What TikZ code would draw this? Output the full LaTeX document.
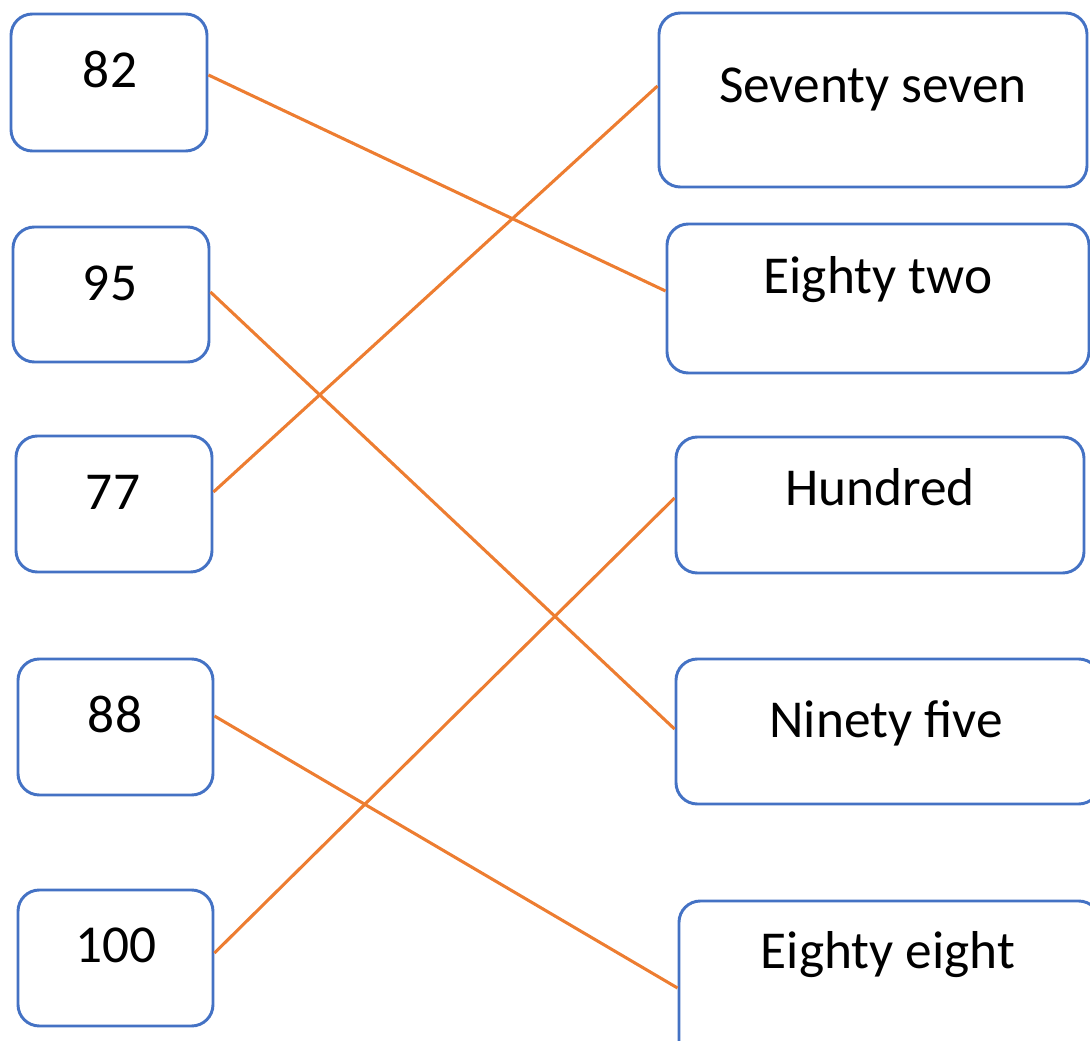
\documentclass[tikz,border=0pt]{standalone}
\usepackage{fontspec}
\setmainfont{Carlito}
\usetikzlibrary{fit,calc}
\definecolor{boxblue}{HTML}{4472C4}
\definecolor{linkorange}{HTML}{ED7D31}
\begin{document}
\begin{tikzpicture}[x=0.75pt,y=-0.75pt,
  box/.style={draw=boxblue, line width=2.2pt, rounded corners=16pt, inner sep=0pt},
  txt/.style={font=\fontsize{40}{48}\selectfont, anchor=base, inner sep=0pt},
  link/.style={draw=linkorange, line width=2.3pt}]
\useasboundingbox (0,0) rectangle (1090,1041);
\clip (0,0) rectangle (1090,1041);
% left boxes
\node[box, fit={(11,14) (207,151)}] (b82) {};
\node[box, fit={(13,227) (209,362)}] (b95) {};
\node[box, fit={(16,436) (212,572)}] (b77) {};
\node[box, fit={(18,659) (213,795)}] (b88) {};
\node[box, fit={(18,890) (213,1026)}] (b100) {};
% right boxes
\node[box, fit={(659,13) (1087,187)}] (bsev) {};
\node[box, fit={(667,224) (1089,373)}] (beit) {};
\node[box, fit={(676,437) (1084,573)}] (bhun) {};
\node[box, fit={(676,659) (1100,804)}] (bnin) {};
\node[box, fit={(679,901) (1100,1075)}] (beie) {};
% texts
\node[txt] (t82) at (110,88) {82};
\node[txt] (t95) at (110,301) {95};
\node[txt] (t77) at (113,509) {77};
\node[txt] (t88) at (115,732) {88};
\node[txt] (t100) at (116,962) {100};
\node[txt] (tsev) at (873,103) {Seventy seven};
\node[txt] (teit) at (878,294) {Eighty two};
\node[txt] (thun) at (880,505) {Hundred};
\node[txt] (tnin) at (886,737) {Ninety five};
\node[txt] (teie) at (888,968) {Eighty eight};
% connectors
\draw[link] ($(b82.east)+(0,-7.5)$) -- ($(beit.west)+(0,-7.5)$);
\draw[link] ($(b95.east)+(0,-2.5)$) -- ($(bnin.west)+(0,-2.5)$);
\draw[link] ($(b77.east)+(0,-12)$) -- ($(bsev.west)+(0,-14)$);
\draw[link] ($(b88.east)+(0,-11)$) -- ($(beie.west)+(0,0)$);
\draw[link] ($(b100.east)+(0,-5)$) -- ($(bhun.west)+(0,-7)$);
\end{tikzpicture}
\end{document}
